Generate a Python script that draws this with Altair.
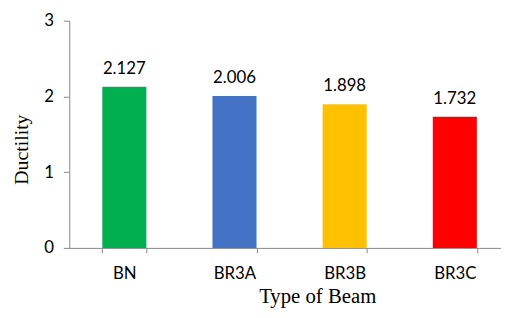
import altair as alt
import pandas as pd

beams = ["BN", "BR3A", "BR3B", "BR3C"]
ductility = [2.127, 2.006, 1.898, 1.732]
value_labels = ["2.127", "2.006", "1.898", "1.732"]
bar_colors = ["#00B050", "#4472C4", "#FFC000", "#FF0000"]

df = pd.DataFrame({"beam": beams, "ductility": ductility, "label": value_labels})

SANS = "Lato"
SERIF = "Liberation Serif"
AXIS_GREY = "#888888"

x = alt.X(
    "beam:N",
    sort=beams,
    scale=alt.Scale(range=[0, 446], paddingInner=0.6, paddingOuter=0.3),
    axis=alt.Axis(
        title="Type of Beam",
        labelAngle=0,
        tickBand="extent",
        labelFont=SANS,
        labelFontSize=17,
        labelColor="#000000",
        labelPadding=13,
        tickSize=5,
        tickColor=AXIS_GREY,
        domainColor=AXIS_GREY,
        titleFont=SERIF,
        titleFontSize=21,
        titleFontWeight="normal",
        titleColor="#000000",
        titleX=251,
        titleY=55,
        titleAnchor="middle",
        titleAlign="center",
        titleBaseline="alphabetic",
    ),
)

y = alt.Y(
    "ductility:Q",
    scale=alt.Scale(domain=[0, 3], nice=False),
    axis=alt.Axis(
        title="Ductility",
        values=[0, 1, 2, 3],
        format="d",
        grid=False,
        labelFont=SANS,
        labelFontSize=17,
        labelColor="#000000",
        labelPadding=10,
        tickSize=6,
        tickColor=AXIS_GREY,
        domainColor=AXIS_GREY,
        titleFont=SERIF,
        titleFontSize=20,
        titleFontWeight="normal",
        titleColor="#000000",
        titleAngle=270,
        titleX=-48,
        titleY=130,
        titleAlign="center",
        titleBaseline="middle",
    ),
)

bars = alt.Chart(df).mark_bar().encode(
    x=x,
    y=y,
    color=alt.Color("beam:N", sort=beams, scale=alt.Scale(domain=beams, range=bar_colors), legend=None),
)

text = alt.Chart(df).mark_text(
    font=SANS, fontSize=17, color="#000000", baseline="alphabetic", dy=-13
).encode(
    x=alt.X("beam:N", sort=beams),
    y=alt.Y("ductility:Q"),
    text="label:N",
)

chart = (
    alt.layer(bars, text)
    .properties(
        width=437,
        height=230,
        autosize=alt.AutoSizeParams(type="none"),
        padding={"left": 62, "top": 11, "right": 0, "bottom": 60},
    )
    .configure_view(stroke=None)
)

chart.save("out.html", embed_options={"renderer": "svg", "actions": False})
